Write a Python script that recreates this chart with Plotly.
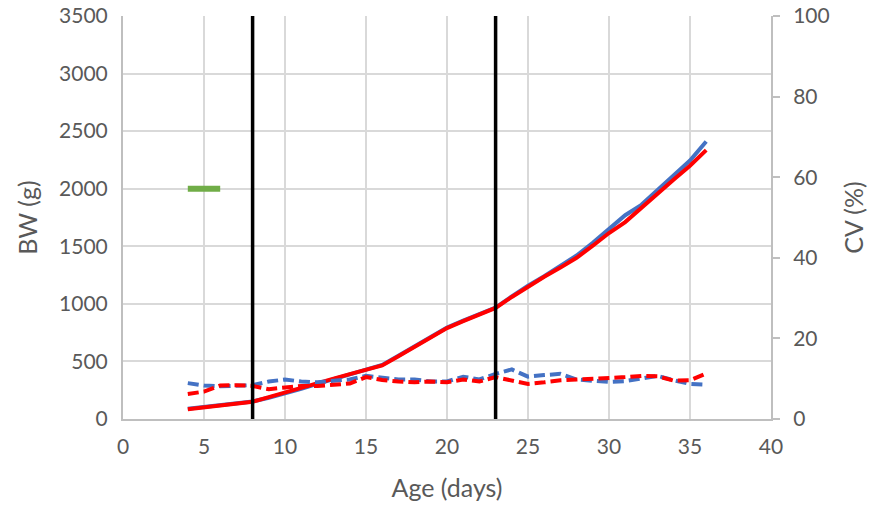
import plotly.graph_objects as go

age = list(range(4, 37))

bw_blue = [90, 105, 118, 133, 152, 185, 222, 262, 305, 348, 392, 428, 470, 550, 632, 712, 795,
           855, 910, 968, 1065, 1158, 1240, 1325, 1420, 1530, 1650, 1770, 1860, 1990, 2110, 2245, 2410]
bw_red = [85, 100, 115, 130, 150, 190, 228, 268, 310, 350, 390, 425, 465, 545, 625, 705, 790,
          850, 905, 965, 1060, 1150, 1235, 1315, 1400, 1505, 1615, 1710, 1835, 1965, 2080, 2200, 2335]

cv_blue = [8.9, 8.3, 8.1, 8.2, 8.4, 9.3, 9.8, 9.3, 9.1, 9.5, 9.8, 10.7, 10.2, 9.8, 9.8, 9.3, 9.3,
           10.5, 9.8, 11.2, 12.3, 10.5, 10.9, 11.2, 9.8, 9.6, 9.2, 9.4, 10.1, 10.7, 9.6, 8.7, 8.5]
cv_red = [6.2, 6.8, 8.3, 8.4, 8.2, 7.4, 7.8, 8.2, 8.2, 8.4, 8.8, 10.4, 9.7, 9.3, 9.1, 9.3, 9.1,
          9.8, 9.3, 10.4, 9.6, 8.7, 9.1, 9.6, 9.8, 10.0, 10.0, 10.4, 10.7, 10.6, 9.5, 9.6, 11.3]

target_x = [4, 6]
target_bw = [2000, 2000]

phase_days = [8, 23]

BLUE = "#4472C4"
RED = "#FF0000"
GREEN = "#70AD47"
FONT = "Lato, Carlito, Calibri, sans-serif"
TXT = "#595959"
GRID = "#D9D9D9"
AX = "#BFBFBF"

fig = go.Figure()

fig.add_trace(go.Scatter(x=age, y=bw_blue, mode="lines", line=dict(color=BLUE, width=4), yaxis="y"))
fig.add_trace(go.Scatter(x=age, y=bw_red, mode="lines", line=dict(color=RED, width=4), yaxis="y"))
fig.add_trace(go.Scatter(x=target_x, y=target_bw, mode="lines", line=dict(color=GREEN, width=6), yaxis="y"))
fig.add_trace(go.Scatter(x=age, y=cv_blue, mode="lines",
                         line=dict(color=BLUE, width=4, dash="11px,5px"), yaxis="y2"))
fig.add_trace(go.Scatter(x=age, y=cv_red, mode="lines",
                         line=dict(color=RED, width=4, dash="11px,5px"), yaxis="y2"))

for d in phase_days:
    fig.add_vline(x=d, line=dict(color="black", width=3.5), layer="above")

fig.update_layout(
    width=876, height=508,
    margin=dict(l=123, r=105, t=16, b=89, autoexpand=False),
    paper_bgcolor="white", plot_bgcolor="white",
    showlegend=False,
    font=dict(family=FONT, size=21, color=TXT),
    xaxis=dict(
        range=[0, 40], dtick=5, tick0=0, automargin=False,
        showgrid=True, gridcolor=GRID, gridwidth=2,
        showline=True, linecolor=AX, linewidth=2,
        ticks="", zeroline=False, ticklabelstandoff=8,
        ticklabeloverflow="allow",
        title=dict(text="Age (days)", standoff=22),
    ),
    yaxis=dict(
        range=[0, 3500], dtick=500, tick0=0, automargin=False,
        showgrid=True, gridcolor=GRID, gridwidth=2,
        showline=True, linecolor=AX, linewidth=2,
        ticks="", zeroline=False, ticklabelstandoff=9,
        ticklabeloverflow="allow",
        title=dict(text="BW (g)", standoff=14),
    ),
    yaxis2=dict(
        range=[0, 100], dtick=20, tick0=0, automargin=False,
        overlaying="y", side="right", anchor="x",
        showgrid=False, zeroline=False,
        showline=True, linecolor=AX, linewidth=2,
        ticks="outside", ticklen=7, tickcolor=AX, tickwidth=2,
        ticklabelstandoff=9,
        ticklabeloverflow="allow",
        title=dict(text="CV (%)", standoff=17),
    ),
)

fig.write_html("out.html", config={"displayModeBar": False},
               post_script="document.body.style.margin='0px';")
